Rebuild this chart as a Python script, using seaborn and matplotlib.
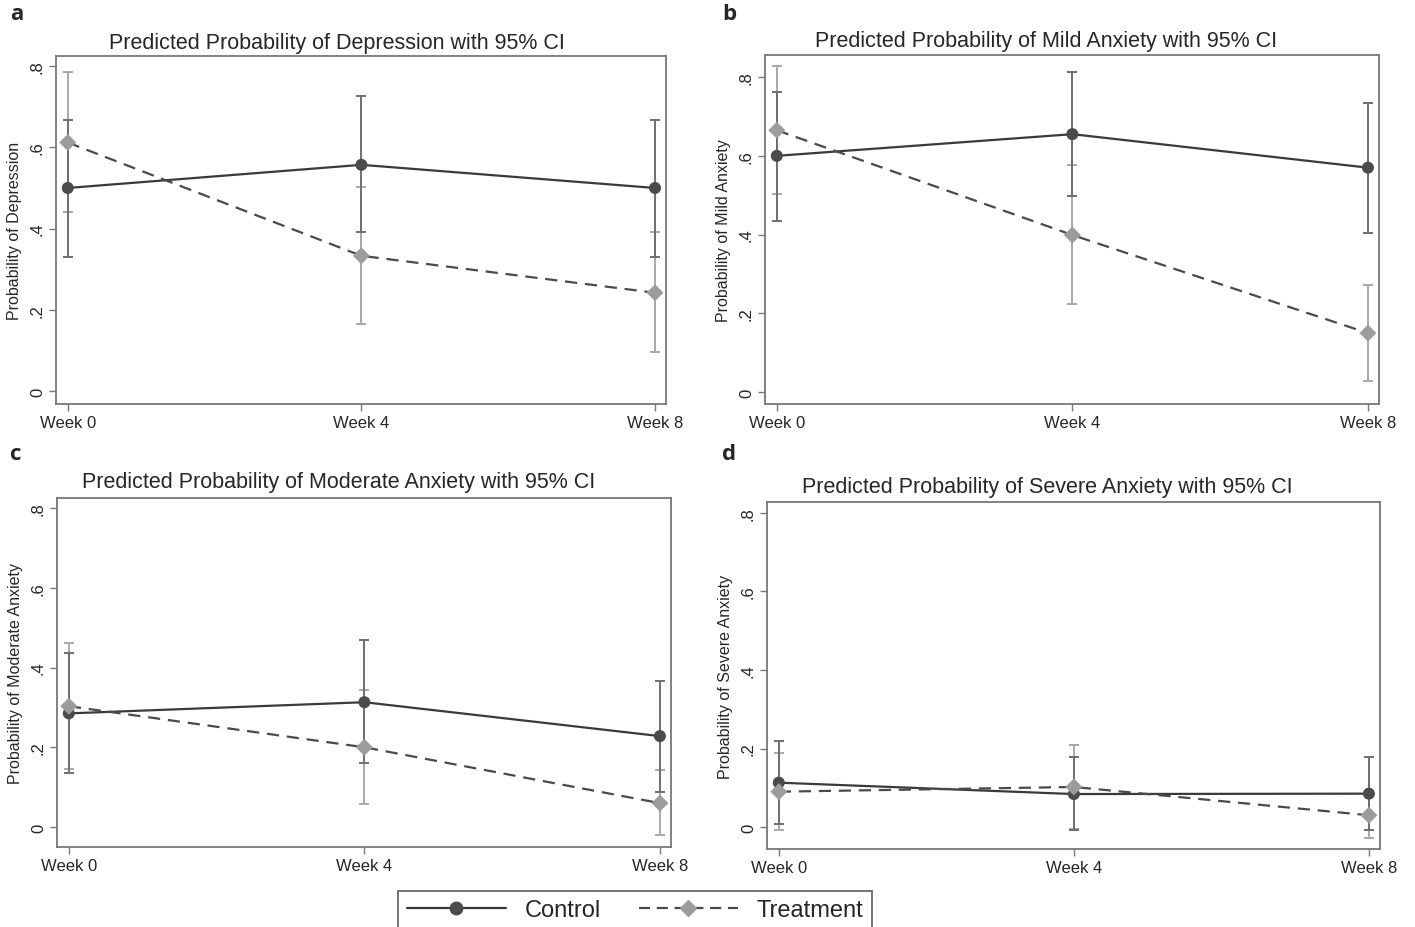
import numpy as np
import pandas as pd
import matplotlib
matplotlib.use("Agg")
import matplotlib.pyplot as plt
from matplotlib.lines import Line2D
import seaborn as sns

# --- data ---
weeks = [0, 4, 8]
week_labels = ["Week 0", "Week 4", "Week 8"]
groups = ["Control", "Treatment"]

titles = [
    "Predicted Probability of Depression with 95% CI",
    "Predicted Probability of Mild Anxiety with 95% CI",
    "Predicted Probability of Moderate Anxiety with 95% CI",
    "Predicted Probability of Severe Anxiety with 95% CI",
]
ylabels = [
    "Probability of Depression",
    "Probability of Mild Anxiety",
    "Probability of Moderate Anxiety",
    "Probability of Severe Anxiety",
]
panel_letters = ["a", "b", "c", "d"]

# depression
dep_ctrl = [0.500, 0.557, 0.500]
dep_ctrl_lo = [0.331, 0.391, 0.331]
dep_ctrl_hi = [0.668, 0.726, 0.668]
dep_trt = [0.612, 0.333, 0.242]
dep_trt_lo = [0.442, 0.165, 0.096]
dep_trt_hi = [0.785, 0.502, 0.391]

# mild anxiety
mild_ctrl = [0.600, 0.655, 0.570]
mild_ctrl_lo = [0.435, 0.498, 0.405]
mild_ctrl_hi = [0.762, 0.812, 0.735]
mild_trt = [0.665, 0.399, 0.150]
mild_trt_lo = [0.504, 0.223, 0.028]
mild_trt_hi = [0.828, 0.576, 0.273]

# moderate anxiety
mod_ctrl = [0.285, 0.313, 0.228]
mod_ctrl_lo = [0.136, 0.160, 0.089]
mod_ctrl_hi = [0.436, 0.468, 0.367]
mod_trt = [0.303, 0.200, 0.060]
mod_trt_lo = [0.146, 0.058, -0.021]
mod_trt_hi = [0.462, 0.344, 0.142]

# severe anxiety
sev_ctrl = [0.113, 0.084, 0.085]
sev_ctrl_lo = [0.008, -0.008, -0.008]
sev_ctrl_hi = [0.219, 0.178, 0.178]
sev_trt = [0.090, 0.102, 0.030]
sev_trt_lo = [-0.008, -0.004, -0.029]
sev_trt_hi = [0.189, 0.208, 0.089]

panels = [
    (dep_ctrl, dep_ctrl_lo, dep_ctrl_hi, dep_trt, dep_trt_lo, dep_trt_hi),
    (mild_ctrl, mild_ctrl_lo, mild_ctrl_hi, mild_trt, mild_trt_lo, mild_trt_hi),
    (mod_ctrl, mod_ctrl_lo, mod_ctrl_hi, mod_trt, mod_trt_lo, mod_trt_hi),
    (sev_ctrl, sev_ctrl_lo, sev_ctrl_hi, sev_trt, sev_trt_lo, sev_trt_hi),
]

# --- style ---
sns.set_theme(style="white")
plt.rcParams['font.family'] = ['Liberation Sans', 'DejaVu Sans']

line_col = {"Control": "#3a3a3a", "Treatment": "#4a4a4a"}
mark_col = {"Control": "#4b4b4b", "Treatment": "#9c9c9c"}
ci_col = {"Control": "#6f6f6f", "Treatment": "#a9a9a9"}
dashes = {"Control": "", "Treatment": (5.5, 3.5)}
markers = {"Control": "o", "Treatment": "D"}
frame_col = "#777777"

W, H = 1415, 928
fig = plt.figure(figsize=(W / 100, H / 100), dpi=100)

# axes boxes in pixels: left, top, right, bottom
boxes = [(56, 57, 666, 405), (765, 56, 1379, 405), (57, 499, 671, 848), (767, 503, 1380, 850)]
ylims = [(-0.032, 0.825), (-0.030, 0.856), (-0.050, 0.825), (-0.056, 0.828)]
title_pos = [(337, 43), (1046, 41), (339, 483), (1047, 488)]
letter_pos = [(10, 14), (722, 14), (10, 455), (722, 455)]

for i, (c, c_lo, c_hi, t, t_lo, t_hi) in enumerate(panels):
    l, tp, r, b = boxes[i]
    ax = fig.add_axes([l / W, 1 - b / H, (r - l) / W, (b - tp) / H])

    df = pd.DataFrame({
        "week": weeks * 2,
        "group": ["Control"] * 3 + ["Treatment"] * 3,
        "prob": c + t,
        "lo": c_lo + t_lo,
        "hi": c_hi + t_hi,
    })

    # confidence intervals
    for g in ["Treatment", "Control"]:
        sub = df[df["group"] == g]
        ax.errorbar(sub["week"], sub["prob"],
                    yerr=[sub["prob"] - sub["lo"], sub["hi"] - sub["prob"]],
                    fmt="none", ecolor=ci_col[g], elinewidth=1.4,
                    capsize=3.5, capthick=1.4, zorder=2)

    sns.lineplot(data=df, x="week", y="prob", hue="group", style="group",
                 palette=line_col, dashes=dashes, linewidth=1.6,
                 legend=False, ax=ax, zorder=3)
    sns.scatterplot(data=df, x="week", y="prob", hue="group", style="group",
                    palette=mark_col, markers=markers, s=75, linewidth=0,
                    legend=False, ax=ax, zorder=4)

    ax.set_xlim(-0.16, 8.15)
    ax.set_ylim(*ylims[i])
    ax.set_xticks(weeks)
    ax.set_xticklabels(week_labels, fontsize=12)
    ax.set_yticks([0, 0.2, 0.4, 0.6, 0.8])
    ax.set_yticklabels(["0", ".2", ".4", ".6", ".8"], fontsize=12,
                       rotation=90, va="center")
    ax.set_xlabel("")
    ax.set_ylabel(ylabels[i], fontsize=11.5, labelpad=6)
    ax.tick_params(axis="both", direction="out", length=5, width=1,
                   color=frame_col, pad=3, left=True, bottom=True)
    for sp in ax.spines.values():
        sp.set_color(frame_col)
        sp.set_linewidth(1.3)

    tx, ty = title_pos[i]
    fig.text(tx / W, 1 - ty / H, titles[i], ha="center", va="center", fontsize=15.5)
    lx, ly = letter_pos[i]
    fig.text(lx / W, 1 - ly / H, panel_letters[i], ha="left", va="center",
             fontsize=16, fontweight="bold", family=["Open Sans", "DejaVu Sans"])

handles = [
    Line2D([], [], color=line_col["Control"], ls="-", lw=1.6, marker="o",
           markersize=9, mfc=mark_col["Control"], mec=mark_col["Control"]),
    Line2D([], [], color=line_col["Treatment"], ls=(0, (5, 3)), lw=1.6, marker="D",
           markersize=8, mfc=mark_col["Treatment"], mec=mark_col["Treatment"]),
]
leg = fig.legend(handles, groups, loc="upper center", bbox_to_anchor=(635 / W, 1 - 880 / H),
                 ncol=2, fontsize=17, frameon=True, fancybox=False, handlelength=4.2,
                 columnspacing=1.6, handletextpad=0.8, borderpad=0.35)
leg.get_frame().set_edgecolor("#333333")
leg.get_frame().set_linewidth(1.2)

fig.savefig("out.png", dpi=100)
